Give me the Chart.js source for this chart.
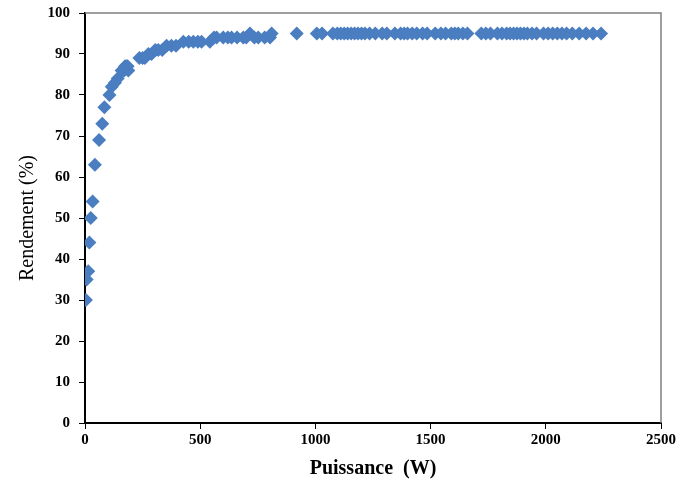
<!DOCTYPE html>
<html>
<head>
<meta charset="utf-8">
<script src="https://cdn.jsdelivr.net/npm/chart.js@4/dist/chart.umd.min.js"></script>
<style>
  html, body { margin: 0; padding: 0; background: #fff; }
  #wrap { width: 677px; height: 481px; position: relative; }
</style>
</head>
<body>
<div id="wrap"><canvas id="c"></canvas></div>
<script>
// Puissance (W) / Rendement (%)
const puissance = [
  4, 7, 14, 19, 25, 33, 43, 61, 75, 84, 106, 116, 130, 142, 159, 165, 170, 174, 180, 185, 188,
  236, 250, 260, 275, 289, 305, 318, 335, 354, 375, 395, 427, 450, 470, 490, 506, 542,
  560, 571, 600, 620, 636, 660, 687, 700, 716, 735, 752, 780, 803, 810,
  919, 1006, 1029, 1076, 1095, 1110, 1125, 1140, 1155, 1170, 1185, 1200, 1215, 1235, 1260,
  1290, 1310, 1345, 1370, 1385, 1400, 1420, 1440, 1465, 1485, 1520, 1545, 1565, 1590, 1605,
  1620, 1640, 1660, 1720, 1740, 1760, 1790, 1810, 1830, 1845, 1860, 1875, 1890, 1905, 1920,
  1940, 1960, 1990, 2010, 2030, 2050, 2070, 2090, 2115, 2145, 2175, 2205, 2240
];
const rendement = [
  30, 35, 37, 44, 50, 54, 63, 69, 73, 77, 80, 82, 83, 84, 86, 86, 86, 87, 87, 87, 86,
  89, 89, 89, 90, 90, 91, 91, 91, 92, 92, 92, 93, 93, 93, 93, 93, 93,
  94, 94, 94, 94, 94, 94, 94, 94, 95, 94, 94, 94, 94, 95,
  95, 95, 95, 95, 95, 95, 95, 95, 95, 95, 95, 95, 95, 95, 95,
  95, 95, 95, 95, 95, 95, 95, 95, 95, 95, 95, 95, 95, 95, 95,
  95, 95, 95, 95, 95, 95, 95, 95, 95, 95, 95, 95, 95, 95, 95,
  95, 95, 95, 95, 95, 95, 95, 95, 95, 95, 95, 95, 95
];
const xTicks = [0, 500, 1000, 1500, 2000, 2500];
const yTicks = [0, 10, 20, 30, 40, 50, 60, 70, 80, 90, 100];

const points = puissance.map((x, i) => ({x: x, y: rendement[i]}));

// grey frame on top and right of the plot
const frame = {
  id: 'frame',
  beforeDatasetsDraw(chart) {
    const a = chart.chartArea, ctx = chart.ctx;
    ctx.save();
    ctx.strokeStyle = '#808080';
    ctx.lineWidth = 1.5;
    ctx.beginPath();
    ctx.moveTo(a.left, a.top);
    ctx.lineTo(a.right, a.top);
    ctx.lineTo(a.right, a.bottom);
    ctx.stroke();
    ctx.restore();
  }
};

const tickFont = {family: 'Liberation Serif', size: 15, weight: 'bold'};

new Chart(document.getElementById('c'), {
  type: 'scatter',
  data: {
    datasets: [{
      data: points,
      pointStyle: 'rectRot',
      pointRadius: 7,
      pointHoverRadius: 7,
      backgroundColor: 'rgb(74,126,193)',
      borderColor: 'rgb(74,126,193)',
      borderWidth: 0
    }]
  },
  options: {
    responsive: true,
    maintainAspectRatio: false,
    animation: false,
    layout: {padding: {top: 13, right: 16, left: 0, bottom: 0}},
    plugins: {legend: {display: false}, tooltip: {enabled: false}},
    scales: {
      x: {
        type: 'linear',
        min: 0, max: 2500,
        afterBuildTicks: s => { s.ticks = xTicks.map(v => ({value: v})); },
        afterFit: s => { s.height = 58; s.paddingLeft = 0; s.paddingRight = 0; },
        grid: {drawOnChartArea: false, color: '#000', tickLength: 6},
        border: {color: '#000', width: 2},
        ticks: {color: '#000', font: tickFont, padding: 2, maxRotation: 0, callback: v => String(v)},
        title: {
          display: true, text: 'Puissance  (W)', color: '#000',
          font: {family: 'Liberation Serif', size: 20, weight: 'bold'},
          padding: {top: 1, bottom: 0}
        }
      },
      y: {
        min: 0, max: 100,
        afterBuildTicks: s => { s.ticks = yTicks.map(v => ({value: v})); },
        afterFit: s => { s.width = 85; s.paddingTop = 0; s.paddingBottom = 0; },
        grid: {drawOnChartArea: false, color: '#000', tickLength: 6},
        border: {color: '#000', width: 2},
        ticks: {color: '#000', font: tickFont, padding: 9, callback: v => String(v)},
        title: {
          display: true, text: 'Rendement (%)', color: '#000',
          font: {family: 'Liberation Serif', size: 20},
          padding: {top: 16, bottom: 4}
        }
      }
    }
  },
  plugins: [frame]
});
</script>
</body>
</html>
